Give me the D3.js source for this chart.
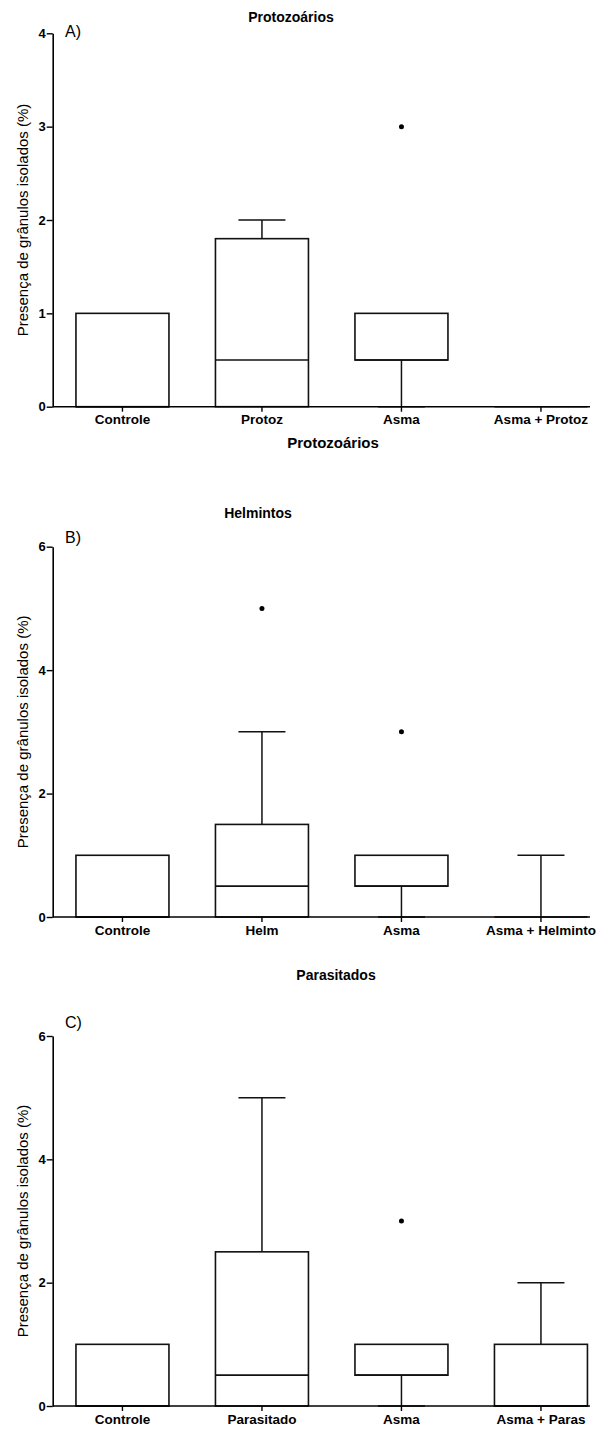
<!DOCTYPE html>
<html>
<head>
<meta charset="utf-8">
<script src="https://cdn.jsdelivr.net/npm/d3@7"></script>
<style>
  body { margin: 0; background: #fff; }
  text { font-family: "Liberation Sans", Arial, sans-serif; }
</style>
</head>
<body>
<svg id="fig" width="605" height="1429"></svg>
<script>
// data: [min, q1, median, q3, max] per group
var categoriesA = ["Controle", "Protoz", "Asma", "Asma + Protoz"];
var statsA = [[0, 0, 0, 1, 1], [0, 0, 0.5, 1.8, 2], [0, 0.5, 0.5, 1, 1], [0, 0, 0, 0, 0]];
var outliersA = [[], [], [3], []];
var ticksA = [0, 1, 2, 3, 4];

var categoriesB = ["Controle", "Helm", "Asma", "Asma + Helminto"];
var statsB = [[0, 0, 0, 1, 1], [0, 0, 0.5, 1.5, 3], [0, 0.5, 0.5, 1, 1], [0, 0, 0, 0, 1]];
var outliersB = [[], [5], [3], []];
var ticksB = [0, 2, 4, 6];

var categoriesC = ["Controle", "Parasitado", "Asma", "Asma + Paras"];
var statsC = [[0, 0, 0, 1, 1], [0, 0, 0.5, 2.5, 5], [0, 0.5, 0.5, 1, 1], [0, 0, 0, 1, 2]];
var outliersC = [[], [], [3], []];
var ticksC = [0, 2, 4, 6];

var yLabel = "Presença de grânulos isolados (%)";

var svg = d3.select('#fig');
var axisLeftX = 52.7, axisRightX = 590;

var panels = [
	{letter: "A)", letterY: 37, title: "Protozoários", titleX: 291, titleY: 22,
	 cats: categoriesA, stats: statsA, outs: outliersA, ticks: ticksA,
	 top: 33.3, bottom: 406.7, xLabel: "Protozoários"},
	{letter: "B)", letterY: 543, title: "Helmintos", titleX: 258, titleY: 518,
	 cats: categoriesB, stats: statsB, outs: outliersB, ticks: ticksB,
	 top: 546.7, bottom: 917, xLabel: null},
	{letter: "C)", letterY: 1028, title: "Parasitados", titleX: 336, titleY: 980,
	 cats: categoriesC, stats: statsC, outs: outliersC, ticks: ticksC,
	 top: 1036, bottom: 1406, xLabel: null}
];

panels.forEach(function(p){
	var g = svg.append('g');

	var x = d3.scaleBand()
		.domain(p.cats)
		.range([axisLeftX, axisLeftX + 4 * 139.5]);

	var y = d3.scaleLinear()
		.domain([0, d3.max(p.ticks)])
		.range([p.bottom, p.top]);

	var boxW = 93, capW = 47;

	// boxes
	var grp = g.append('g').selectAll('g')
		.data(p.stats)
		.join('g')
		.attr('transform', (d, i) => 'translate(' + (x(p.cats[i]) + x.bandwidth() / 2) + ',0)');

	// whiskers
	grp.filter(d => d[4] > d[3]).append('line')
		.attr('x1', 0).attr('x2', 0)
		.attr('y1', d => y(d[3])).attr('y2', d => y(d[4]))
		.attr('stroke', '#111').attr('stroke-width', 1.5);
	grp.filter(d => d[4] > d[3]).append('line')
		.attr('x1', -capW / 2).attr('x2', capW / 2)
		.attr('y1', d => y(d[4])).attr('y2', d => y(d[4]))
		.attr('stroke', '#111').attr('stroke-width', 1.5);
	grp.filter(d => d[0] < d[1]).append('line')
		.attr('x1', 0).attr('x2', 0)
		.attr('y1', d => y(d[1])).attr('y2', d => y(d[0]))
		.attr('stroke', '#111').attr('stroke-width', 1.5);
	grp.filter(d => d[0] < d[1]).append('line')
		.attr('x1', -capW / 2).attr('x2', capW / 2)
		.attr('y1', d => y(d[0])).attr('y2', d => y(d[0]))
		.attr('stroke', '#111').attr('stroke-width', 1.5);

	grp.append('rect')
		.attr('x', -boxW / 2)
		.attr('width', boxW)
		.attr('y', d => y(d[3]))
		.attr('height', d => y(d[1]) - y(d[3]))
		.attr('fill', 'none')
		.attr('stroke', '#111')
		.attr('stroke-width', 1.6);

	grp.append('line')
		.attr('x1', -boxW / 2).attr('x2', boxW / 2)
		.attr('y1', d => y(d[2])).attr('y2', d => y(d[2]))
		.attr('stroke', '#111').attr('stroke-width', 1.6);

	// outliers
	p.outs.forEach(function(o, i){
		g.selectAll(null)
			.data(o)
			.join('circle')
			.attr('cx', x(p.cats[i]) + x.bandwidth() / 2)
			.attr('cy', d => y(d))
			.attr('r', 2.5)
			.attr('fill', '#000');
	});

	// y axis
	var yAxis = g.append('g')
		.attr('transform', 'translate(' + axisLeftX + ',0)')
		.call(d3.axisLeft(y).tickValues(p.ticks).tickFormat(d3.format('d'))
			.tickSize(6).tickPadding(1).tickSizeOuter(0));
	yAxis.select('.domain').attr('stroke', '#000').attr('stroke-width', 1.6);
	yAxis.selectAll('.tick line').attr('stroke-width', 1.4);
	yAxis.selectAll('.tick text')
		.attr('font-size', 13)
		.attr('font-weight', 'bold')
		.attr('font-family', '"Liberation Sans", Arial, sans-serif')
		.attr('fill', '#000');

	// x axis
	var xAxis = g.append('g')
		.attr('transform', 'translate(0,' + p.bottom + ')')
		.call(d3.axisBottom(x).tickSize(5).tickPadding(3).tickSizeOuter(0));
	xAxis.select('.domain').remove();
	xAxis.append('line')
		.attr('x1', axisLeftX).attr('x2', axisRightX)
		.attr('stroke', '#000').attr('stroke-width', 1.6);
	xAxis.selectAll('.tick line').attr('stroke-width', 1.4);
	xAxis.selectAll('.tick text')
		.attr('font-size', 13.5)
		.attr('font-weight', 'bold')
		.attr('font-family', '"Liberation Sans", Arial, sans-serif')
		.attr('fill', '#000');

	if (p.xLabel) {
		g.append('text')
			.attr('x', 333)
			.attr('y', p.bottom + 41)
			.attr('text-anchor', 'middle')
			.attr('font-size', 15)
			.attr('font-weight', 'bold')
			.text(p.xLabel);
	}

	// y label
	g.append('text')
		.attr('transform', 'translate(28,' + ((p.top + p.bottom) / 2) + ') rotate(-90)')
		.attr('text-anchor', 'middle')
		.attr('font-size', 15)
		.text(yLabel);

	// title + panel letter
	g.append('text')
		.attr('x', p.titleX)
		.attr('y', p.titleY)
		.attr('text-anchor', 'middle')
		.attr('font-size', 14)
		.attr('font-weight', 'bold')
		.text(p.title);
	g.append('text')
		.attr('x', 65)
		.attr('y', p.letterY)
		.attr('font-size', 16)
		.text(p.letter);
});
</script>
</body>
</html>
